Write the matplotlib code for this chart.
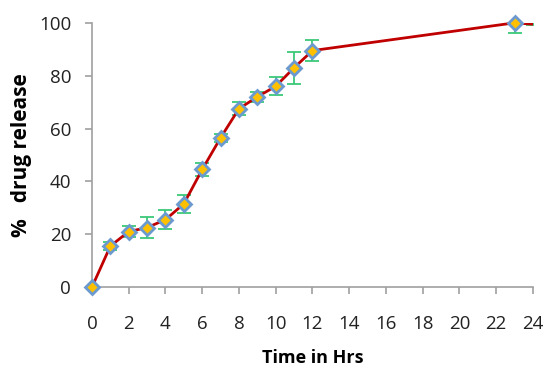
import matplotlib
matplotlib.use("Agg")
import matplotlib.pyplot as plt

time_hrs = [0, 1, 2, 3, 4, 5, 6, 7, 8, 9, 10, 11, 12, 23]
release = [0, 15.5, 21, 22.5, 25.5, 31.5, 44.5, 56.5, 67.5, 72, 76, 83, 89.5, 100]
errors = [0.5, 1.5, 2, 4, 3.5, 3.5, 2.5, 1.5, 2.5, 2, 3.5, 6, 4, 4]
tail_time = [23, 24]
tail_release = [100, 99.5]
tail_err = [0, 0.3]
x_ticks = list(range(0, 25, 2))
y_ticks = [0, 20, 40, 60, 80, 100]

plt.rcParams['font.family'] = ['Open Sans', 'DejaVu Sans']
fig = plt.figure(figsize=(5.46, 3.71), dpi=100)
ax = fig.add_axes([0.1685, 0.2264, 0.8075, 0.712])

ax.plot(tail_time, tail_release, color='#C00000', lw=2, zorder=2)
ax.errorbar([tail_time[1]], [tail_release[1]], yerr=[tail_err[1]], fmt='none',
            ecolor='#3CC878', elinewidth=1.3, capsize=5, capthick=1.3, zorder=1)
ax.errorbar(time_hrs, release, yerr=errors, fmt='none', ecolor='#3CC878',
            elinewidth=1.3, capsize=5, capthick=1.3, zorder=1)
ax.plot(time_hrs, release, color='#C00000', lw=2, marker='D', markersize=7.5,
        markerfacecolor='#FFC000', markeredgecolor='#6A9AD0', markeredgewidth=2,
        zorder=3, clip_on=False)

ax.set_xlim(0, 24)
ax.set_ylim(0, 100)
ax.set_xticks(x_ticks)
ax.set_yticks(y_ticks)
for s in ['top', 'right']:
    ax.spines[s].set_visible(False)
for s in ['left', 'bottom']:
    ax.spines[s].set_color('#A0A0A0')
    ax.spines[s].set_linewidth(1.2)
ax.tick_params(axis='both', colors='#A0A0A0', labelcolor='#222222',
               labelsize=13.5, length=5, width=1.2)
ax.tick_params(axis='x', pad=15)
ax.tick_params(axis='y', pad=10)
ax.set_xlabel('Time in Hrs', fontsize=13, fontweight='bold', va='center')
ax.xaxis.set_label_coords(0.5, -0.269)
ax.set_ylabel('%   drug release', fontsize=15, fontweight='bold', va='center')
ax.yaxis.set_label_coords(-0.161, 0.5)

fig.savefig('out.png', dpi=100)
